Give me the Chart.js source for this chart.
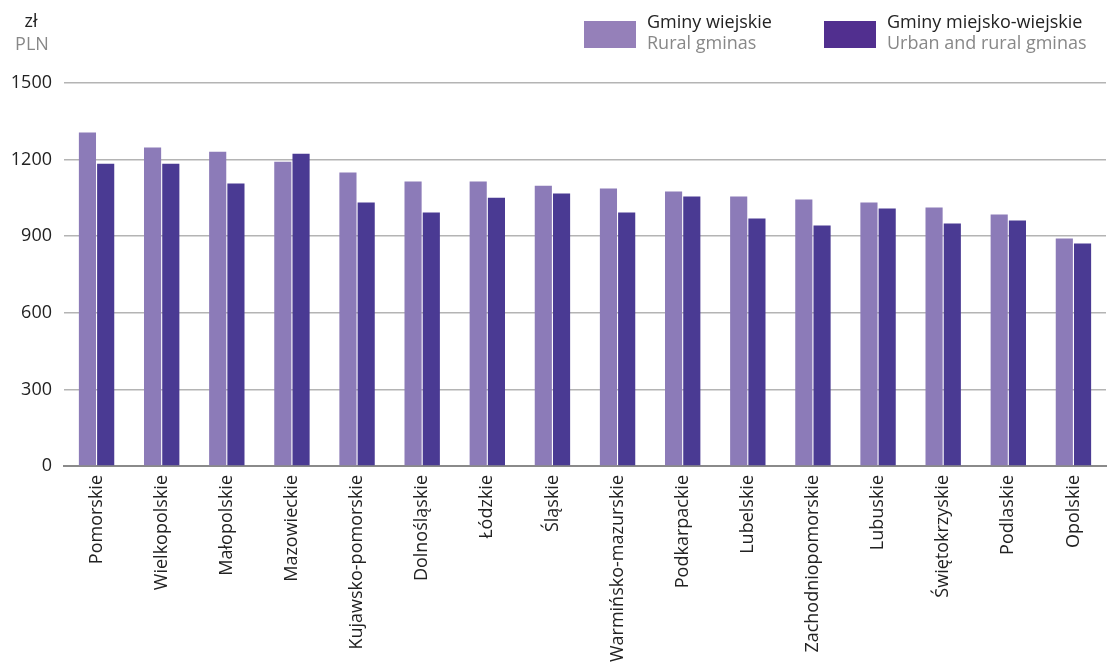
<!DOCTYPE html>
<html>
<head>
<meta charset="utf-8">
<script src="https://cdn.jsdelivr.net/npm/chart.js@4"></script>
<style>
  html, body { margin: 0; padding: 0; background: #fff; overflow: hidden; }
  body { width: 1109px; height: 669px; position: relative; font-family: "Open Sans", sans-serif; }
  #wrap { position: absolute; left: 0; top: 0; width: 1109px; height: 669px; }
  .txt { position: absolute; font-size: 18px; line-height: 22px; white-space: nowrap; }
  .pl { color: #222; }
  .en { color: #888; }
  .sw { position: absolute; width: 52px; height: 27px; }
  .unit { width: 60px; text-align: center; }
</style>
</head>
<body>
<div id="wrap"><canvas id="chart"></canvas></div>

<!-- unit label -->
<div class="txt pl unit" style="left:1px; top:9px;">zł</div>
<div class="txt en unit" style="left:2px; top:32px;">PLN</div>

<!-- legend -->
<div class="sw" style="left:584px; top:21px; background:#9580b9;"></div>
<div class="txt pl" style="left:647px; top:10px;">Gminy wiejskie</div>
<div class="txt en" style="left:647px; top:31px;">Rural gminas</div>
<div class="sw" style="left:824px; top:21px; background:#512f8f;"></div>
<div class="txt pl" style="left:887px; top:10px;">Gminy miejsko-wiejskie</div>
<div class="txt en" style="left:887px; top:31px;">Urban and rural gminas</div>

<script>
// voivodeships, sorted as in the source chart
var regions = ["Pomorskie", "Wielkopolskie", "Małopolskie", "Mazowieckie", "Kujawsko-pomorskie",
  "Dolnośląskie", "Łódzkie", "Śląskie", "Warmińsko-mazurskie", "Podkarpackie", "Lubelskie",
  "Zachodniopomorskie", "Lubuskie", "Świętokrzyskie", "Podlaskie", "Opolskie"];
var rural = [1306, 1247, 1231, 1192, 1149, 1114, 1114, 1098, 1087, 1075, 1055, 1044, 1032, 1012, 985, 891];
var urbanRural = [1184, 1184, 1106, 1223, 1032, 993, 1051, 1067, 993, 1055, 969, 942, 1008, 950, 961, 871];
var yTicks = [0, 300, 600, 900, 1200, 1500];

var ctx = document.getElementById('chart');
var chart = new Chart(ctx, {
  type: 'bar',
  data: {
    labels: regions,
    datasets: [{
      label: "Gminy wiejskie",
      data: rural,
      backgroundColor: "#8c7bb8",
      categoryPercentage: 0.56,
      barPercentage: 0.94
    }, {
      label: "Gminy miejsko-wiejskie",
      data: urbanRural,
      backgroundColor: "#4a3a93",
      categoryPercentage: 0.56,
      barPercentage: 0.94
    }]
  },
  options: {
    responsive: true,
    maintainAspectRatio: false,
    animation: false,
    layout: { padding: { top: 83, right: 3, left: 0, bottom: 0 } },
    plugins: {
      legend: { display: false },
      tooltip: { enabled: false }
    },
    scales: {
      x: {
        grid: { display: false, drawTicks: false },
        border: { display: true, color: "#8a8a8a", width: 2 },
        ticks: {
          color: "#222",
          font: { family: "Open Sans", size: 18 },
          minRotation: 90,
          maxRotation: 90,
          autoSkip: false,
          padding: 9
        },
        afterFit: function(scale) { scale.height = 203; }
      },
      y: {
        min: 0,
        max: 1500,
        afterBuildTicks: function(scale) {
          scale.ticks = yTicks.map(function(v) { return { value: v }; });
        },
        grid: {
          drawTicks: false,
          color: "#b4b4b4",
          lineWidth: 1.5
        },
        border: { display: false },
        ticks: {
          color: "#222",
          font: { family: "Open Sans", size: 18 },
          padding: 12,
          callback: function(v) { return String(v); }
        },
        afterFit: function(scale) { scale.width = 64; }
      }
    }
  }
});
</script>
</body>
</html>
